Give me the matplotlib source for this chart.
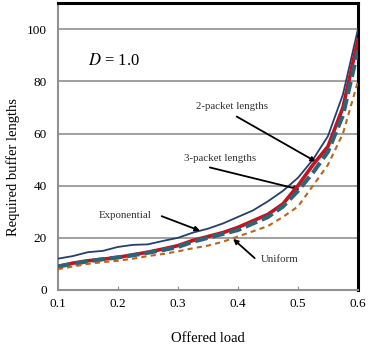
import matplotlib
matplotlib.use('Agg')
import matplotlib.pyplot as plt
import numpy as np

# offered load samples
load = [0.1, 0.125, 0.15, 0.175, 0.2, 0.225, 0.25, 0.275, 0.3, 0.325, 0.35,
        0.375, 0.4, 0.425, 0.45, 0.475, 0.5, 0.525, 0.55, 0.575, 0.6]

# required buffer lengths per packet length distribution
exponential = [12, 13, 14.5, 15, 16.5, 17.3, 17.5, 18.8, 20, 22, 23.5,
               25.5, 28, 30.5, 34, 38, 43, 50, 59, 75, 100]
two_packet = [9, 10.3, 11.2, 11.8, 12.5, 13.5, 14.5, 15.7, 17, 19, 20.5,
              22, 24, 26.5, 29, 33, 40, 48, 55, 70, 96]
three_packet = [9, 10, 11, 11.8, 12.5, 13.3, 14.3, 15.3, 16.5, 18.5, 20,
                21.5, 23, 25.5, 28, 32, 38, 45, 53, 67, 92]
uniform = [8, 9, 10, 10.7, 11.2, 12, 13, 13.8, 14.8, 16, 17,
           18.5, 20.5, 22.5, 24.5, 28, 32, 40, 48, 60, 80]

x_ticks = [0.1, 0.2, 0.3, 0.4, 0.5, 0.6]
y_ticks = [0, 20, 40, 60, 80, 100]

plt.rcParams['font.family'] = ['Liberation Serif', 'DejaVu Serif']
plt.rcParams['mathtext.fontset'] = 'stix'

fig = plt.figure(figsize=(3.78, 3.44), dpi=100)
ax = fig.add_axes([0.153, 0.157, 0.794, 0.834])

# 网格线
for yv in y_ticks[1:]:
    ax.axhline(yv, color='#a0a0a0', lw=1.4, zorder=1)

ax.plot(load, exponential, color='#243f6b', lw=1.3, zorder=3)
ax.plot(load, two_packet, color='#c8101e', lw=2.6, zorder=4)
ax.plot(load, three_packet, color='#2f6475', lw=3.0, dashes=(3.0, 1.2), zorder=5)
ax.plot(load, uniform, color='#b8661f', lw=1.5, dashes=(2.5, 2.0), zorder=6)

ax.set_xlim(0.1, 0.6)
ax.set_ylim(0, 110)
ax.set_xticks(x_ticks)
ax.set_yticks(y_ticks)
ax.set_xticklabels(['0.1', '0.2', '0.3', '0.4', '0.5', '0.6'])
ax.tick_params(axis='x', direction='in', length=3, color='#909090', labelsize=9.5, pad=6)
ax.tick_params(axis='y', length=0, labelsize=9.5, pad=8)

ax.spines['left'].set_color('#909090')
ax.spines['bottom'].set_color('#909090')
ax.spines['left'].set_linewidth(1.5)
ax.spines['bottom'].set_linewidth(1.5)
ax.spines['top'].set_color('black')
ax.spines['right'].set_color('black')
ax.spines['top'].set_linewidth(2.2)
ax.spines['right'].set_linewidth(2.2)

ax.set_ylabel('Required buffer lengths', fontsize=10.5, labelpad=6)
ax.yaxis.set_label_coords(-0.125, 0.43)
fig.text(0.55, 0.036, 'Offered load', fontsize=10.5, ha='center', va='top')

ax.text(0.193, 87.7, r'$D$ = 1.0', fontsize=12, ha='center', va='center')

# 注释文字和箭头
arrow = dict(arrowstyle='-|>', color='black', lw=1.3, mutation_scale=7,
             shrinkA=0, shrinkB=0)
note_color = '#303030'
ax.text(0.39, 70.4, '2-packet lengths', fontsize=7.8, color=note_color,
        ha='center', va='center')
ax.annotate('', xy=(0.53, 49.2), xytext=(0.398, 66.5), arrowprops=arrow)
ax.text(0.37, 50.5, '3-packet lengths', fontsize=7.8, color=note_color,
        ha='center', va='center')
ax.annotate('', xy=(0.503, 38.5), xytext=(0.353, 47), arrowprops=arrow)
ax.text(0.212, 28.5, 'Exponential', fontsize=7.8, color=note_color,
        ha='center', va='center')
ax.annotate('', xy=(0.337, 22.7), xytext=(0.273, 28.3), arrowprops=arrow)
ax.text(0.47, 11.5, 'Uniform', fontsize=7.8, color=note_color,
        ha='center', va='center')
ax.annotate('', xy=(0.392, 19.6), xytext=(0.428, 12.2), arrowprops=arrow)

fig.savefig('out.png', dpi=100)
